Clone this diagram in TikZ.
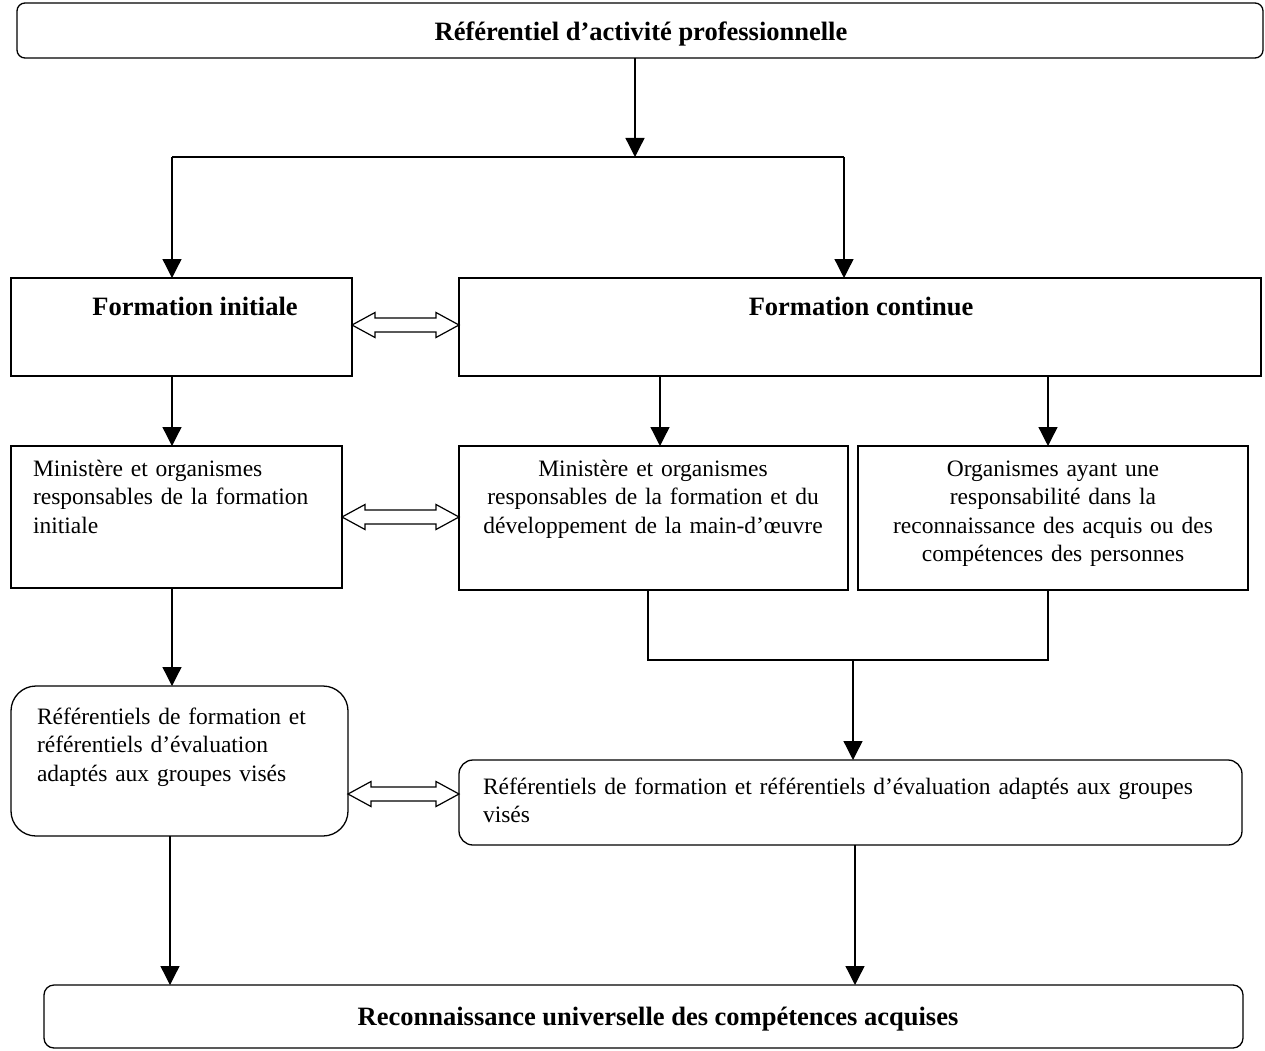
\documentclass[tikz,border=0pt]{standalone}
\usepackage{fontspec}
\setmainfont{Liberation Serif}
\usetikzlibrary{arrows.meta,calc}
\tikzset{
  box/.style={draw, line width=1.3pt, inner sep=0pt, outer sep=0pt},
  rbox/.style={box, rounded corners=#1},
  txt/.style={inner sep=0pt, outer sep=0pt, font=\fontsize{23.5}{28.5}\selectfont},
  btxt/.style={txt, font=\fontsize{26.5}{30}\selectfont\bfseries},
  conn/.style={line width=1.3pt},
  arr/.style={conn, -{Triangle[width=19pt,length=19pt]}},
  harrow/.style={line width=1.2pt, fill=white, line join=miter}
}
\newcommand{\hollowarrow}[2]{%
  \draw[harrow] let \p1=(#1), \p2=(#2) in
    (\x1,\y1) -- ++(23pt,12.5pt) -- ++(0pt,-5.5pt) -- (\x2-23pt,\y1+7pt)
    -- ++(0pt,5.5pt) -- (\x2,\y1) -- ++(-23pt,-12.5pt) -- ++(0pt,5.5pt)
    -- (\x1+23pt,\y1-7pt) -- ++(0pt,-5.5pt) -- cycle;}
\begin{document}
\begin{tikzpicture}[x=1pt,y=-1pt]
\useasboundingbox (0,0) rectangle (1265,1051);
% boxes
\node[rbox=8pt, minimum width=1246pt, minimum height=55pt] (top) at (640,30.5) {};
\node[box, minimum width=341pt, minimum height=98pt] (fi) at (181.5,327) {};
\node[box, minimum width=802pt, minimum height=98pt] (fc) at (860,327) {};
\node[box, minimum width=331pt, minimum height=142pt] (m1) at (176.5,517) {};
\node[box, minimum width=389pt, minimum height=144pt] (m2) at (653.5,518) {};
\node[box, minimum width=390pt, minimum height=144pt] (org) at (1053,518) {};
\node[rbox=25pt, minimum width=337pt, minimum height=150pt] (rl) at (179.5,761) {};
\node[rbox=14pt, minimum width=783pt, minimum height=85pt] (rr) at (850.5,802.5) {};
\node[rbox=10pt, minimum width=1199pt, minimum height=63pt] (bot) at (643.5,1016.5) {};
% texts
\node[btxt, anchor=base] (ttop) at (641,41) {Référentiel d’activité professionnelle};
\node[btxt, anchor=base] (tfi) at (195,315) {Formation initiale};
\node[btxt, anchor=base] (tfc) at (861,315) {Formation continue};
\node[txt, anchor=base west, text width=305pt, align=left] (tm1) at (33,476)
  {Ministère et organismes\\responsables de la formation\\initiale};
\node[txt, anchor=base, text width=385pt, align=center] (tm2) at (653,476)
  {Ministère et organismes\\responsables de la formation et du\\développement de la main-d’œuvre};
\node[txt, anchor=base, text width=385pt, align=center] (torg) at (1053,476)
  {Organismes ayant une\\responsabilité dans la\\reconnaissance des acquis ou des\\compétences des personnes};
\node[txt, anchor=base west, text width=305pt, align=left] (trl) at (37,724)
  {Référentiels de formation et\\référentiels d’évaluation\\adaptés aux groupes visés};
\node[txt, anchor=base west, text width=820pt, align=left] (trr) at (483,794)
  {Référentiels de formation et référentiels d’évaluation adaptés aux groupes\\visés};
\node[btxt, anchor=base] (tbot) at (658,1025) {Reconnaissance universelle des compétences acquises};
% junction coordinates
\coordinate (jt) at (635,157);
\coordinate (jl) at (172,157);
\coordinate (jr) at (844,157);
\coordinate (xa) at (172,0);
\coordinate (xb) at (660,0);
\coordinate (xc) at (1048,0);
\coordinate (jm) at (648,660);
\coordinate (jo) at (1048,660);
\coordinate (jd) at (853,660);
\coordinate (xl) at (170,0);
\coordinate (xr) at (855,0);
% connectors
\draw[arr] (top.south -| jt) -- (jt);
\draw[conn] (jl) -- (jr);
\draw[arr] (jl) -- (jl |- fi.north);
\draw[arr] (jr) -- (jr |- fc.north);
\draw[arr] (xa |- fi.south) -- (xa |- m1.north);
\draw[arr] (xb |- fc.south) -- (xb |- m2.north);
\draw[arr] (xc |- fc.south) -- (xc |- org.north);
\draw[conn] (jm |- m2.south) -- (jm) -- (jo) -- (jo |- org.south);
\draw[arr] (jd) -- (jd |- rr.north);
\draw[arr] (xa |- m1.south) -- (xa |- rl.north);
\draw[arr] (xl |- rl.south) -- (xl |- bot.north);
\draw[arr] (xr |- rr.south) -- (xr |- bot.north);
% double hollow arrows
\hollowarrow{fi.east |- 0,325}{fc.west |- 0,325}
\hollowarrow{m1.east |- 0,517}{m2.west |- 0,517}
\hollowarrow{rl.east |- 0,794}{rr.west |- 0,794}
\end{tikzpicture}
\end{document}
